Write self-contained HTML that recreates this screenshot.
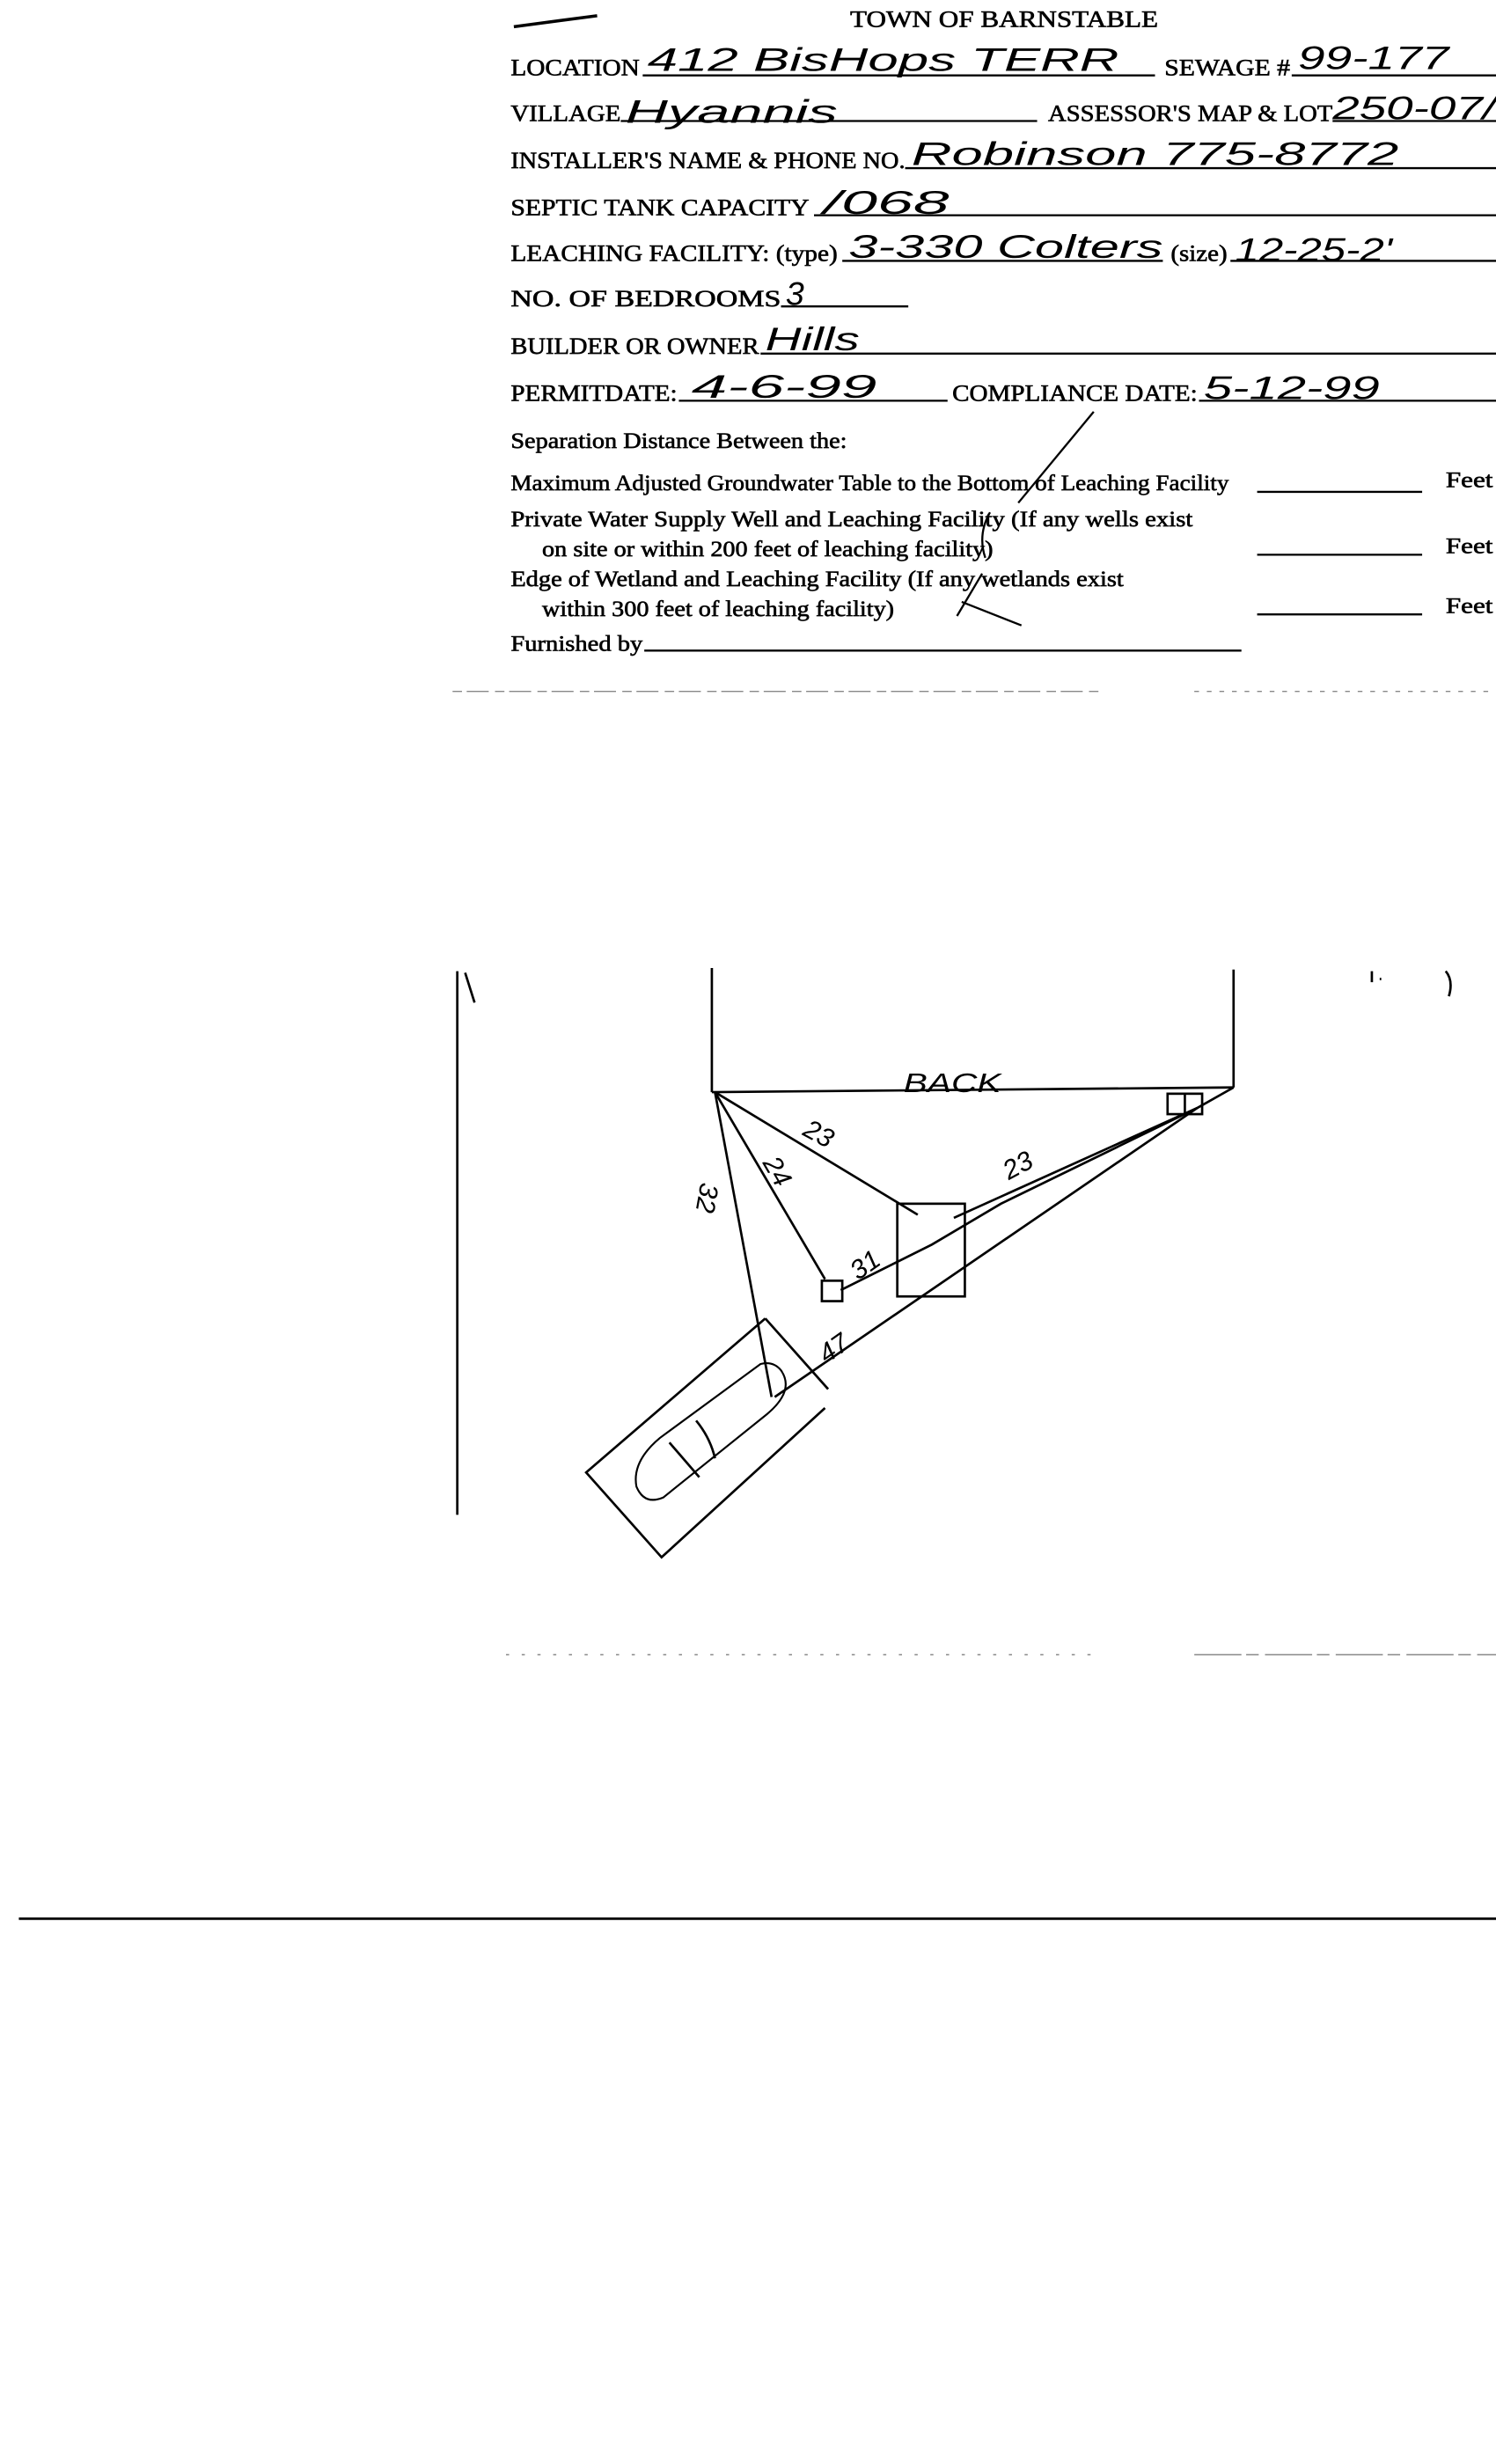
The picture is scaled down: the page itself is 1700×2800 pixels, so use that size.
<!DOCTYPE html>
<html><head><meta charset="utf-8"><style>
html,body{margin:0;padding:0;background:#fff;}
svg{display:block;}
.l{font-family:"Liberation Serif",serif;font-size:15px;fill:#000;stroke:#000;stroke-width:0.35;}
.s{font-family:"Liberation Serif",serif;font-size:14px;fill:#000;stroke:#000;stroke-width:0.35;}
.h{font-family:"Liberation Sans",sans-serif;font-style:italic;font-size:21px;fill:#000;}
.d{font-family:"Liberation Sans",sans-serif;font-style:italic;font-size:17px;fill:#000;}
</style></head><body>
<svg width="1700" height="2800" viewBox="0 0 952 1568" preserveAspectRatio="none" xmlns="http://www.w3.org/2000/svg">
<rect width="952" height="1568" fill="#fff"/>
<g stroke="#000" fill="none">
<path d="M327 17 L380 10" stroke-width="2"/>
<g stroke-width="1.3">
<line x1="409" y1="48" x2="735" y2="48"/><line x1="822" y1="48" x2="952" y2="48"/>
<line x1="395" y1="77" x2="660" y2="77"/><line x1="848" y1="77" x2="952" y2="77"/>
<line x1="576" y1="107" x2="952" y2="107"/>
<line x1="518" y1="137" x2="952" y2="137"/>
<line x1="536" y1="166" x2="740" y2="166"/><line x1="783" y1="166" x2="952" y2="166"/>
<line x1="497" y1="195" x2="578" y2="195"/>
<line x1="484" y1="225" x2="952" y2="225"/>
<line x1="432" y1="255" x2="603" y2="255"/><line x1="763" y1="255" x2="952" y2="255"/>
<line x1="800" y1="313" x2="905" y2="313"/>
<line x1="800" y1="353" x2="905" y2="353"/>
<line x1="800" y1="391" x2="905" y2="391"/>
<line x1="410" y1="414" x2="790" y2="414"/>
</g>
<path d="M648 320 L696 262" stroke-width="1.3"/>
<path d="M630 326 Q622 340 627 355 M625 365 L609 392 M612 383 L650 398" stroke-width="1.3"/>
</g>
<text x="541" y="17" class="l" textLength="196" lengthAdjust="spacingAndGlyphs">TOWN OF BARNSTABLE</text>
<text x="325" y="48" class="l" textLength="82" lengthAdjust="spacingAndGlyphs">LOCATION</text>
<text x="741" y="48" class="l" textLength="80" lengthAdjust="spacingAndGlyphs">SEWAGE #</text>
<text x="325" y="77" class="l" textLength="70" lengthAdjust="spacingAndGlyphs">VILLAGE</text>
<text x="667" y="77" class="l" textLength="181" lengthAdjust="spacingAndGlyphs">ASSESSOR'S MAP &amp; LOT</text>
<text x="325" y="107" class="l" textLength="251" lengthAdjust="spacingAndGlyphs">INSTALLER'S NAME &amp; PHONE NO.</text>
<text x="325" y="137" class="l" textLength="190" lengthAdjust="spacingAndGlyphs">SEPTIC TANK CAPACITY</text>
<text x="325" y="166" class="l" textLength="208" lengthAdjust="spacingAndGlyphs">LEACHING FACILITY: (type)</text>
<text x="745" y="166" class="l" textLength="36" lengthAdjust="spacingAndGlyphs">(size)</text>
<text x="325" y="195" class="l" textLength="172" lengthAdjust="spacingAndGlyphs">NO. OF BEDROOMS</text>
<text x="325" y="225" class="l" textLength="158" lengthAdjust="spacingAndGlyphs">BUILDER OR OWNER</text>
<text x="325" y="255" class="l" textLength="106" lengthAdjust="spacingAndGlyphs">PERMITDATE:</text>
<text x="606" y="255" class="l" textLength="156" lengthAdjust="spacingAndGlyphs">COMPLIANCE  DATE:</text>
<text x="325" y="285" class="s" textLength="214" lengthAdjust="spacingAndGlyphs">Separation Distance Between the:</text>
<text x="325" y="312" class="s" textLength="457" lengthAdjust="spacingAndGlyphs">Maximum Adjusted Groundwater Table to the Bottom of Leaching Facility</text>
<text x="920" y="310" class="s" textLength="30" lengthAdjust="spacingAndGlyphs">Feet</text>
<text x="325" y="335" class="s" textLength="434" lengthAdjust="spacingAndGlyphs">Private Water Supply Well and Leaching Facility  (If any wells exist</text>
<text x="345" y="354" class="s" textLength="287" lengthAdjust="spacingAndGlyphs">on site or within 200 feet of leaching facility)</text>
<text x="920" y="352" class="s" textLength="30" lengthAdjust="spacingAndGlyphs">Feet</text>
<text x="325" y="373" class="s" textLength="390" lengthAdjust="spacingAndGlyphs">Edge of Wetland and Leaching Facility (If any wetlands exist</text>
<text x="345" y="392" class="s" textLength="224" lengthAdjust="spacingAndGlyphs">within 300 feet of leaching facility)</text>
<text x="920" y="390" class="s" textLength="30" lengthAdjust="spacingAndGlyphs">Feet</text>
<text x="325" y="414" class="s" textLength="84" lengthAdjust="spacingAndGlyphs">Furnished by</text>
<text x="412" y="45" class="h" textLength="300" lengthAdjust="spacingAndGlyphs">412  BisHops  TERR</text>
<text x="826" y="44" class="h" textLength="96" lengthAdjust="spacingAndGlyphs">99-177</text>
<text x="398" y="78" class="h" font-size="26" textLength="135" lengthAdjust="spacingAndGlyphs">Hyannis</text>
<text x="848" y="76" class="h" font-size="26" textLength="104" lengthAdjust="spacingAndGlyphs">250-07/</text>
<text x="580" y="105" class="h" font-size="24" textLength="310" lengthAdjust="spacingAndGlyphs">Robinson   775-8772</text>
<text x="524" y="136" class="h" font-size="24" textLength="80" lengthAdjust="spacingAndGlyphs">/068</text>
<text x="540" y="164" class="h" font-size="22" textLength="200" lengthAdjust="spacingAndGlyphs">3-330 Colters</text>
<text x="786" y="166" class="h" font-size="18" textLength="100" lengthAdjust="spacingAndGlyphs">12-25-2'</text>
<text x="500" y="194" class="h" font-size="22">3</text>
<text x="487" y="223" class="h" font-size="22" textLength="60" lengthAdjust="spacingAndGlyphs">Hills</text>
<text x="440" y="253" class="h" font-size="22" textLength="118" lengthAdjust="spacingAndGlyphs">4-6-99</text>
<text x="766" y="254" class="h" font-size="24" textLength="112" lengthAdjust="spacingAndGlyphs">5-12-99</text>
<g stroke="#888" stroke-width="0.8" fill="none">
<line x1="288" y1="440" x2="700" y2="440" stroke-dasharray="6 3 14 4"/>
<line x1="760" y1="440" x2="952" y2="440" stroke-dasharray="3 5"/>
<line x1="322" y1="1053" x2="700" y2="1053" stroke-dasharray="2 8"/>
<line x1="760" y1="1053" x2="952" y2="1053" stroke-dasharray="30 3 8 4"/>
</g>
<line x1="12" y1="1221" x2="952" y2="1221" stroke="#000" stroke-width="1.6"/>
<g stroke="#000" fill="none" stroke-width="1.5">
<line x1="291" y1="618" x2="291" y2="964"/>
<path d="M296 619 L302 638"/>
<path d="M920 618 Q925 624 922 634"/>
<path d="M873 618 L873 625 M878 623 L879 623"/>
<line x1="453" y1="616" x2="453" y2="695"/>
<line x1="785" y1="617" x2="785" y2="692"/>
<line x1="453" y1="695" x2="785" y2="692"/>
<rect x="743" y="696" width="22" height="13"/>
<line x1="754" y1="696" x2="754" y2="709"/>
<line x1="455" y1="695" x2="491" y2="889"/>
<line x1="455" y1="695" x2="525" y2="814"/>
<line x1="455" y1="695" x2="584" y2="773"/>
<line x1="785" y1="692" x2="762" y2="705"/>
<line x1="762" y1="705" x2="607" y2="775"/>
<path d="M762 705 L637 766 L593 792 L535 821"/>
<line x1="762" y1="705" x2="493" y2="889"/>
<rect x="571" y="766" width="43" height="59"/>
<rect x="523" y="815" width="13" height="13"/>
<path d="M487 839 L373 937 L421 991 L525 896"/>
<line x1="487" y1="839" x2="527" y2="884"/>
<path d="M497 872 Q492 866 484 868 L420 915 Q402 930 405 946 Q410 958 422 953 L488 900 Q506 885 497 872 Z" stroke-width="1.2"/>
<path d="M443 904 Q452 915 455 928 M426 918 L445 940"/>
</g>
<text x="575" y="695" class="d" font-size="16" textLength="62" lengthAdjust="spacingAndGlyphs">BACK</text>
<text class="d" transform="translate(446,752) rotate(100)">32</text>
<text class="d" transform="translate(485,740) rotate(60)">24</text>
<text class="d" transform="translate(510,722) rotate(28)">23</text>
<text class="d" transform="translate(642,751) rotate(-28)">23</text>
<text class="d" transform="translate(546,815) rotate(-35)">31</text>
<text class="d" transform="translate(526,868) rotate(-35)">47</text>
</svg>
</body></html>
